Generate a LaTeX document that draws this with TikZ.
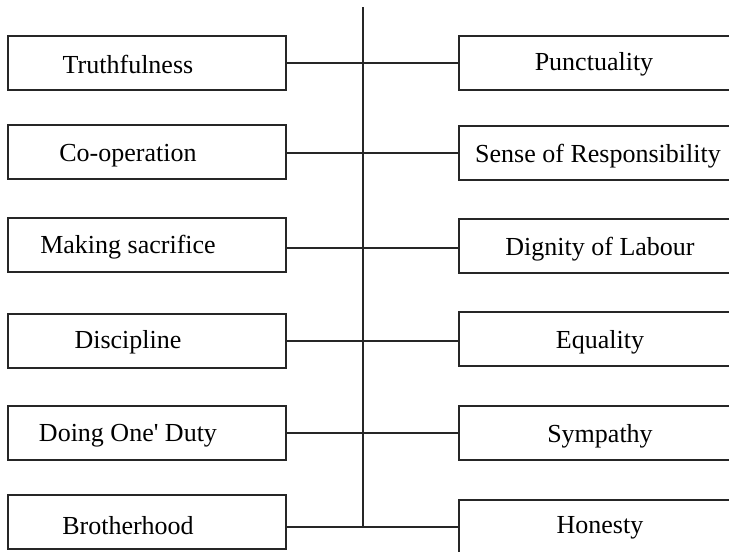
\documentclass[tikz,border=0pt]{standalone}
\usepackage{fontspec}
\setmainfont{Liberation Serif}
\begin{document}
\begin{tikzpicture}[x=1pt,y=-1pt,
  valbox/.style={draw=black!85,line width=1.2pt,rectangle,minimum width=278pt,minimum height=54pt,inner sep=0pt},
  lbl/.style={font=\fontsize{26}{30}\selectfont,inner sep=0pt},
  conn/.style={draw=black!85,line width=1.2pt}]
\useasboundingbox (0,0) rectangle (729,552);
\clip (0,0) rectangle (729,552);
% left boxes
\node[valbox] (l1) at (147,63) {};
\node[valbox] (l2) at (147,152) {};
\node[valbox] (l3) at (147,245) {};
\node[valbox] (l4) at (147,341) {};
\node[valbox] (l5) at (147,433) {};
\node[valbox] (l6) at (147,522) {};
\node[lbl] (tl1) at (128,64) {Truthfulness};
\node[lbl] (tl2) at (128,156) {Co-operation};
\node[lbl] (tl3) at (128,247) {Making sacrifice};
\node[lbl] (tl4) at (128,342) {Discipline};
\node[lbl] (tl5) at (128,436) {Doing One\textquotesingle{} Duty};
\node[lbl] (tl6) at (128,526) {Brotherhood};
% right boxes
\node[valbox] (r1) at (598,63) {};
\node[valbox] (r2) at (598,153) {};
\node[valbox] (r3) at (598,246) {};
\node[valbox] (r4) at (598,339) {};
\node[valbox] (r5) at (598,433) {};
\node[valbox] (r6) at (598,527) {};
\node[lbl] (tr1) at (594,64) {Punctuality};
\node[lbl] (tr2) at (598,156) {Sense of Responsibility};
\node[lbl] (tr3) at (600,249) {Dignity of Labour};
\node[lbl] (tr4) at (600,342) {Equality};
\node[lbl] (tr5) at (600,436) {Sympathy};
\node[lbl] (tr6) at (600,528) {Honesty};
% connectors
\coordinate (top) at (363,7);
\coordinate (bot) at (363,527);
\draw[conn] (top) -- (bot);
\draw[conn] (l1.east) -- (r1.west);
\draw[conn] (l2.east |- r2.west) -- (r2.west);
\draw[conn] (l3.east |- 0,248) -- (r3.west |- 0,248);
\draw[conn] (l4.east |- 0,341) -- (r4.west |- 0,341);
\draw[conn] (l5.east) -- (r5.west);
\draw[conn] (l6.east |- r6.west) -- (r6.west);
\end{tikzpicture}
\end{document}
